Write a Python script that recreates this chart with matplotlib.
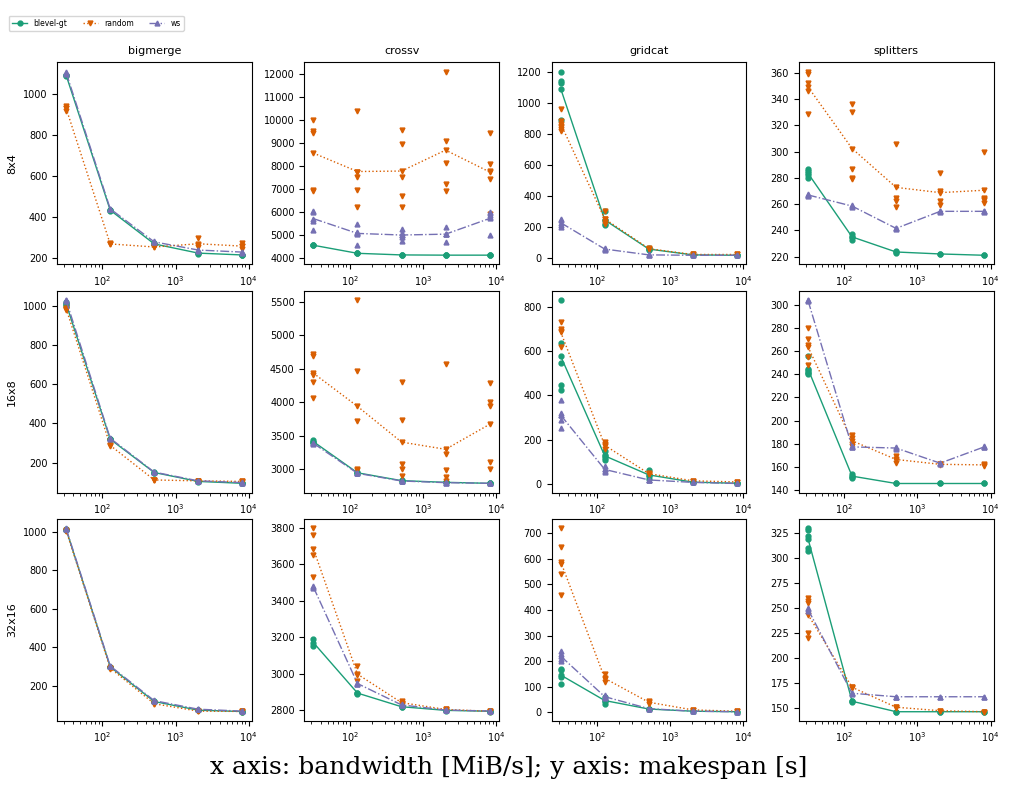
import matplotlib.pyplot as plt
import numpy as np

bandwidths = [32, 128, 512, 2048, 8192]
workflows = ['bigmerge', 'crossv', 'gridcat', 'splitters']
clusters = ['8x4', '16x8', '32x16']
schedulers = ['blevel-gt', 'random', 'ws']

# makespan samples per (cluster, workflow, scheduler), one list per bandwidth
data = {
    ('8x4', 'bigmerge'): {
        'blevel-gt': [[1090, 1095], [435, 430], [265, 270], [225, 220], [215, 212]],
        'random': [[940, 930, 920], [270, 265], [255, 250], [295, 260, 250], [270, 255, 245]],
        'ws': [[1100, 1110], [440, 438], [280, 275], [235, 240], [225, 230]],
    },
    ('8x4', 'crossv'): {
        'blevel-gt': [[4550, 4560], [4200, 4210], [4130, 4140], [4120, 4130], [4120, 4130]],
        'random': [[10000, 9500, 9450, 6950, 6900], [10400, 7750, 7500, 6950, 6200],
                   [9550, 8950, 7500, 6700, 6200], [12100, 9100, 8150, 7200, 6900],
                   [9450, 8100, 7800, 7450, 5900]],
        'ws': [[6050, 6000, 5600, 5200], [5500, 5150, 5050, 4550, 5100],
               [5100, 5000, 4900, 4750, 5250], [5350, 5050, 4700, 5050],
               [5950, 5850, 5800, 5000, 6000]],
    },
    ('8x4', 'gridcat'): {
        'blevel-gt': [[1200, 1140, 1130, 890], [300, 240, 220, 210], [55, 50, 60], [15, 20], [15, 15]],
        'random': [[960, 880, 850, 830, 820, 840], [300, 250, 230, 220], [60, 55], [20], [20]],
        'ws': [[250, 240, 200, 210], [60, 55, 50], [20, 15], [15], [15]],
    },
    ('8x4', 'splitters'): {
        'blevel-gt': [[287, 285, 282, 280], [237, 235, 233], [224, 223], [222], [221]],
        'random': [[361, 359, 352, 346, 329], [336, 330, 287, 280, 279], [306, 265, 262, 258],
                   [284, 270, 262, 259], [300, 265, 263, 261, 264]],
        'ws': [[267, 268, 266], [258, 259], [242, 241], [255, 254], [255, 254]],
    },
    ('16x8', 'bigmerge'): {
        'blevel-gt': [[1010, 1000, 1020], [320, 318], [150, 148], [105, 102], [95, 93]],
        'random': [[985, 980, 990], [285, 290], [110, 112], [105, 108], [105, 102]],
        'ws': [[1030, 1025], [325, 322], [152, 150], [108, 105], [95, 100]],
    },
    ('16x8', 'crossv'): {
        'blevel-gt': [[3440, 3390, 3400], [2950, 2940], [2830, 2825], [2800, 2805], [2790, 2785]],
        'random': [[4720, 4690, 4400, 4300, 4060], [5530, 4460, 3720, 3000, 2980],
                   [4300, 3740, 3080, 3000, 2900], [4570, 3230, 2980, 2880, 2820],
                   [4290, 4000, 3950, 3110, 3000]],
        'ws': [[3390, 3380], [2940, 2935], [2820, 2825], [2800, 2795], [2790, 2785]],
    },
    ('16x8', 'gridcat'): {
        'blevel-gt': [[830, 635, 545, 445, 425], [150, 130, 120, 110], [65, 35, 25], [10, 8], [5, 3]],
        'random': [[730, 700, 690, 620], [190, 180, 170, 160], [50, 45], [15], [10]],
        'ws': [[380, 320, 310, 290, 255], [80, 70, 60, 55], [20, 18], [8], [3]],
    },
    ('16x8', 'splitters'): {
        'blevel-gt': [[256, 244, 242, 241, 240], [154, 152, 151], [146], [146], [146]],
        'random': [[280, 270, 265, 255, 248], [188, 185, 180, 178], [170, 166, 164], [163, 162], [163, 161]],
        'ws': [[304, 303], [178, 177], [177, 176], [163, 164], [177, 178]],
    },
    ('32x16', 'bigmerge'): {
        'blevel-gt': [[1015, 1010], [300, 298], [120, 118], [75, 73], [68, 66]],
        'random': [[1005, 1010], [290, 295], [105, 110], [68, 70], [68, 67]],
        'ws': [[1020, 1015], [305, 302], [125, 122], [80, 78], [70, 68]],
    },
    ('32x16', 'crossv'): {
        'blevel-gt': [[3190, 3150], [2890, 2895], [2815, 2820], [2800, 2795], [2795, 2790]],
        'random': [[3800, 3760, 3650, 3530], [3040, 2990, 2960], [2850, 2840, 2830], [2805, 2800], [2795, 2790]],
        'ws': [[3480, 3470], [2950, 2940], [2830, 2825], [2800, 2798], [2795, 2793]],
    },
    ('32x16', 'gridcat'): {
        'blevel-gt': [[170, 165, 140, 110], [60, 45, 35], [15, 12], [5], [3]],
        'random': [[720, 645, 580, 540, 460], [150, 130, 120], [45, 35], [10], [5]],
        'ws': [[240, 230, 210, 200], [70, 60, 55], [15], [5], [3]],
    },
    ('32x16', 'splitters'): {
        'blevel-gt': [[330, 328, 322, 310, 307], [157, 156], [146], [146], [146]],
        'random': [[260, 257, 255, 225, 220], [171, 170], [151, 150], [147], [146]],
        'ws': [[250, 247], [165, 164], [161, 161], [161], [161]],
    },
}

colors = {'blevel-gt': '#1b9e77', 'random': '#d95f02', 'ws': '#7570b3'}
markers = {'blevel-gt': 'o', 'random': 'v', 'ws': '^'}
styles = {'blevel-gt': '-', 'random': ':', 'ws': '-.'}

fig, axes = plt.subplots(3, 4, figsize=(10.18, 8.01), dpi=100)
plt.subplots_adjust(left=0.056, right=0.976, top=0.922, bottom=0.1, wspace=0.27, hspace=0.13)

for r, cl in enumerate(clusters):
    for c, wf in enumerate(workflows):
        ax = axes[r, c]
        for s in schedulers:
            samples = data[(cl, wf)][s]
            xs = [bw for bw, vals in zip(bandwidths, samples) for _ in vals]
            ys = [v for vals in samples for v in vals]
            ax.plot(xs, ys, linestyle='none', marker=markers[s], color=colors[s], markersize=3.5)
            means = [np.mean(vals) for vals in samples]
            ax.plot(bandwidths, means, linestyle=styles[s], color=colors[s], linewidth=1,
                    marker=markers[s], markersize=3.5, label=s)
        ax.set_xscale('log')
        ax.set_xlim(24, 11000)
        ax.tick_params(labelsize=7)
        if r == 0:
            ax.set_title(wf, fontsize=8)
        if c == 0:
            ax.set_ylabel(cl, fontsize=8)

handles, labels = axes[0, 0].get_legend_handles_labels()
fig.legend(handles, labels, loc='upper left', bbox_to_anchor=(0.005, 0.985), ncol=3, fontsize=5.5)
fig.text(0.5, 0.042, 'x axis: bandwidth [MiB/s]; y axis: makespan [s]', ha='center', va='center',
         fontsize=18, family='DejaVu Serif')

plt.savefig('out.png')
